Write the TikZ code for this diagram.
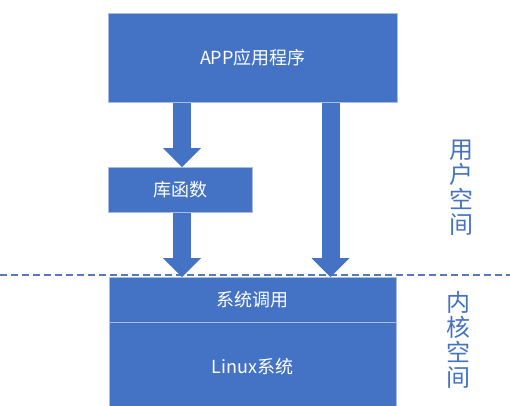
\documentclass[tikz,border=0pt]{standalone}
\usepackage{fontspec}
\setmainfont{Noto Sans CJK SC}
\newfontfamily\cjk{Noto Sans CJK SC}
\usetikzlibrary{arrows.meta}
\definecolor{boxblue}{HTML}{4472C4}
\definecolor{edgeblue}{HTML}{A9BCE2}
\definecolor{lineblue}{HTML}{5479BD}
\tikzset{
  layer/.style={fill=boxblue, draw=edgeblue, line width=0.8pt, text=white,
    font=\cjk\fontsize{18}{20}\selectfont, inner sep=0pt, anchor=north west},
  bigarrow/.style={boxblue, line width=18pt,
    -{Triangle[width=38pt,length=19pt,line width=0pt]}},
  spacelabel/.style={text=boxblue, font=\cjk\fontsize{24}{25}\selectfont,
    align=center, inner sep=0pt}
}
\begin{document}
\begin{tikzpicture}[x=1pt,y=-1pt]
  \useasboundingbox (0,0) rectangle (510,405);
  \begin{scope}
    \clip (0,0) rectangle (510,405);
    % application layer
    \node[layer, minimum width=289pt, minimum height=89pt] (app) at (108,13) {APP应用程序};
    % library
    \node[layer, minimum width=144pt, minimum height=45pt] (lib) at (108,167) {库函数};
    % kernel: system call interface and kernel body
    \node[layer, minimum width=287pt, minimum height=45pt] (sys) at (109,277) {系统调用};
    \node[layer, minimum width=287pt, minimum height=90pt] (linux) at (109,322) {};
    \node[text=white, font=\cjk\fontsize{18}{20}\selectfont] (lintext) at (252.5,367) {Linux系统};
    \draw[edgeblue, line width=0.8pt] (sys.south west) -- (sys.south east);
  \end{scope}
  % user/kernel boundary
  \coordinate (bl) at (0,275);
  \coordinate (br) at (510,275);
  \draw[lineblue, line width=1.4pt, dash pattern=on 7pt off 4pt] (bl) -- (br);
  % calls
  \draw[bigarrow] (app.south -| 182,0) -- (lib.north -| 182,0);
  \draw[bigarrow] (lib.south -| 182,0) -- (sys.north -| 182,0);
  \draw[bigarrow] (app.south -| 330.5,0) -- (sys.north -| 330.5,0);
  % side labels
  \node[spacelabel] (user) at (461,188) {用\\户\\空\\间};
  \node[spacelabel] (kern) at (458,340) {内\\核\\空\\间};
\end{tikzpicture}
\end{document}
